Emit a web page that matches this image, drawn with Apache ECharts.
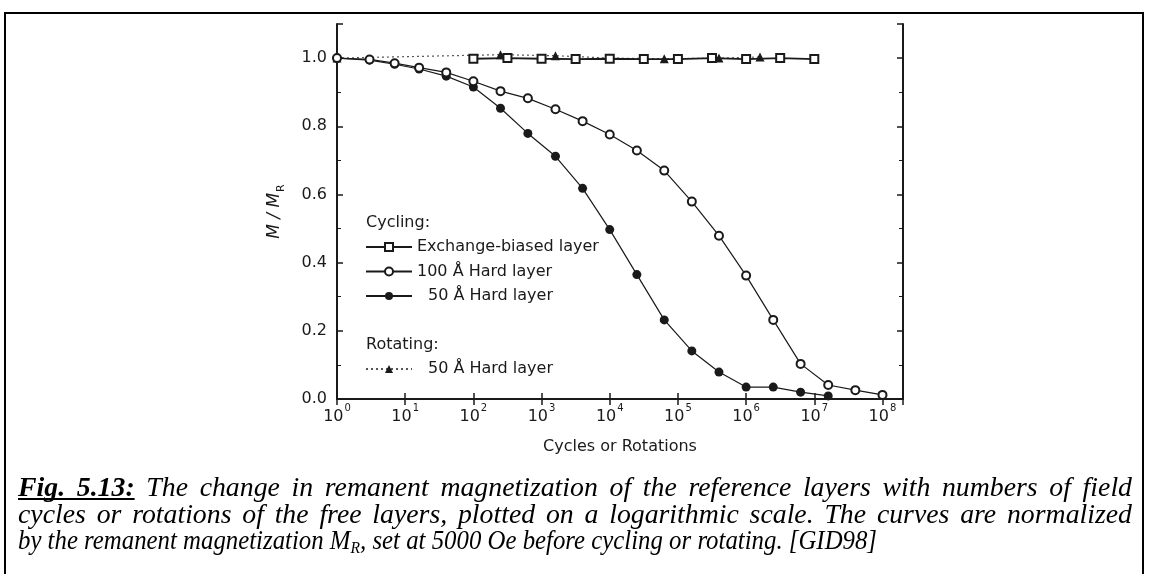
<!DOCTYPE html>
<html>
<head>
<meta charset="utf-8">
<script src="https://cdn.jsdelivr.net/npm/echarts@6/dist/echarts.min.js"></script>
<style>
  html, body { margin: 0; padding: 0; background: #ffffff; }
  #chart { width: 1149px; height: 574px; }
</style>
</head>
<body>
<div id="chart"></div>
<script>
// Remanent magnetization M/M_R versus number of field cycles / rotations

// Cycling: exchange-biased layer (open squares)
const exchangeCycles = [100, 316, 1000, 3160, 1e4, 3.16e4, 1e5, 3.16e5, 1e6, 3.16e6, 1e7];
const exchangeMR     = [0.998, 1.0, 0.998, 0.997, 0.998, 0.997, 0.997, 1.0, 0.997, 1.0, 0.997];

// Cycling: 100 Å hard layer (open circles)
const hard100Cycles = [1, 3, 7, 16, 40, 100, 250, 630, 1600, 4000, 1e4, 2.5e4, 6.3e4, 1.6e5, 4e5, 1e6, 2.5e6, 6.3e6, 1.6e7, 4e7, 1e8];
const hard100MR     = [1.0, 0.996, 0.985, 0.972, 0.958, 0.932, 0.903, 0.882, 0.85, 0.815, 0.776, 0.729, 0.67, 0.579, 0.479, 0.362, 0.232, 0.103, 0.041, 0.026, 0.012];

// Cycling: 50 Å hard layer (filled circles)
const hard50Cycles = [1, 3, 7, 16, 40, 100, 250, 630, 1600, 4000, 1e4, 2.5e4, 6.3e4, 1.6e5, 4e5, 1e6, 2.5e6, 6.3e6, 1.6e7];
const hard50MR     = [1.0, 0.994, 0.982, 0.968, 0.947, 0.915, 0.853, 0.779, 0.712, 0.618, 0.497, 0.365, 0.232, 0.141, 0.079, 0.035, 0.035, 0.02, 0.009];

// Rotating: 50 Å hard layer (filled triangles)
const rotCycles = [1, 250, 1600, 1e4, 6.3e4, 4e5, 1.6e6];
const rotMR     = [1.0, 1.01, 1.007, 1.0, 0.998, 1.0, 1.003];

// Axis ticks
const yTickValues = [0, 0.2, 0.4, 0.6, 0.8, 1.0];
const xDecades = [0, 1, 2, 3, 4, 5, 6, 7, 8];

// Caption text
const captionHead = ['Fig.', '5.13:'];
const captionLine1 = 'The change in remanent magnetization of the reference layers with numbers of field';
const captionLine2 = 'cycles or rotations of the free layers, plotted on a logarithmic scale. The curves are normalized';
const captionLine3a = 'by the remanent magnetization M';
const captionSub = 'R';
const captionLine3b = ', set at 5000 Oe before cycling or rotating. [GID98]';

const pairs = (xs, ys) => xs.map((x, i) => [x, ys[i]]);

const INK = '#1a1a1a';
const SANS = '"DejaVu Sans", sans-serif';
const SERIF = '"Liberation Serif", "Times New Roman", serif';

// ---- caption typesetting: condensed serif, first two lines justified ----
const ctx2d = document.createElement('canvas').getContext('2d');
const measure = (font, text) => { ctx2d.font = font; return ctx2d.measureText(text).width; };
const CAP = 27;
const fItal = 'italic ' + CAP + 'px ' + SERIF;
const fBold = 'bold italic ' + CAP + 'px ' + SERIF;
const fSub = 'italic 17px ' + SERIF;
const CAP_LEFT = 18;
const CAP_RIGHT = 1132;
const w3 = measure(fItal, captionLine3a) + measure(fSub, captionSub) + measure(fItal, captionLine3b);
const condense = 859 / w3;
const bodyScale = condense * 1.12;

function justifiedLine(tokens, y, scale) {
  const widths = tokens.map(t => measure(t.font, t.text) * scale);
  const total = widths.reduce((a, b) => a + b, 0);
  const gap = (CAP_RIGHT - CAP_LEFT - total) / (tokens.length - 1);
  const els = [];
  let x = CAP_LEFT;
  tokens.forEach((t, i) => {
    els.push({
      type: 'text', x: x, y: y, scaleX: scale, silent: true,
      style: { text: t.text, font: t.font, fill: '#000', verticalAlign: 'middle' }
    });
    t.x0 = x; t.x1 = x + widths[i];
    x += widths[i] + gap;
  });
  return els;
}

const line1Tokens = captionHead.map(w => ({ text: w, font: fBold }))
  .concat(captionLine1.split(' ').map(w => ({ text: w, font: fItal })));
const line2Tokens = captionLine2.split(' ').map(w => ({ text: w, font: fItal }));
const captionGraphics = []
  .concat(justifiedLine(line1Tokens, 489, bodyScale))
  .concat(justifiedLine(line2Tokens, 516, bodyScale));
captionGraphics.push({
  type: 'line', silent: true,
  shape: { x1: line1Tokens[0].x0, y1: 499, x2: line1Tokens[1].x1, y2: 499 },
  style: { stroke: '#000', lineWidth: 2 }
});
captionGraphics.push({
  type: 'text', x: CAP_LEFT, y: 542, scaleX: condense, silent: true,
  style: {
    text: '{t|' + captionLine3a + '}{s|' + captionSub + '}{t|' + captionLine3b + '}',
    verticalAlign: 'middle',
    rich: {
      t: { font: fItal, fill: '#000', lineHeight: 30, verticalAlign: 'middle' },
      s: { font: fSub, fill: '#000', lineHeight: 30, verticalAlign: 'bottom' }
    }
  }
});

const chart = echarts.init(document.getElementById('chart'), null, { renderer: 'canvas' });

const isDecade = v => Math.abs(Math.log10(v) - Math.round(Math.log10(v))) < 1e-6;

const baseX = {
  type: 'log',
  logBase: 10,
  min: 1,
  max: 2e8,
  axisLine: { show: true, lineStyle: { color: INK, width: 2 } },
  axisTick: { show: true, inside: true, length: 6, lineStyle: { color: INK, width: 1.5 } },
  splitLine: { show: false },
  minorTick: { show: false }
};
const baseY = {
  type: 'value',
  min: 0,
  max: 1.1,
  interval: 0.2,
  axisLine: { show: true, lineStyle: { color: INK, width: 2 } },
  axisTick: { show: true, inside: true, length: 6, lineStyle: { color: INK, width: 1.5 } },
  minorTick: { show: true, splitNumber: 2, length: 4, lineStyle: { color: INK, width: 1 } },
  splitLine: { show: false }
};

const option = {
  backgroundColor: '#ffffff',
  animation: false,
  grid: { left: 337, right: 246, top: 24, bottom: 175, containLabel: false },
  xAxis: [
    Object.assign({}, baseX, {
      position: 'bottom',
      name: 'Cycles or Rotations',
      nameLocation: 'middle',
      nameGap: 40,
      nameTextStyle: { fontFamily: SANS, fontSize: 16, color: INK },
      axisLabel: {
        show: true,
        margin: 4,
        formatter: v => isDecade(v) && xDecades.includes(Math.round(Math.log10(v)))
          ? '{b|10}{s|' + Math.round(Math.log10(v)) + '}' : '',
        rich: {
          b: { fontFamily: SANS, fontSize: 16, color: INK, lineHeight: 22, verticalAlign: 'bottom' },
          s: { fontFamily: SANS, fontSize: 10, color: INK, lineHeight: 22, verticalAlign: 'top', padding: [0, 0, 0, 1] }
        }
      }
    }),
    Object.assign({}, baseX, { position: 'top', axisLabel: { show: false } })
  ],
  yAxis: [
    Object.assign({}, baseY, {
      position: 'left',
      name: '{a|M / M}{b|R}',
      nameLocation: 'middle',
      nameGap: 50,
      nameTextStyle: {
        rich: {
          a: { fontFamily: SANS, fontSize: 17, fontStyle: 'italic', color: INK, lineHeight: 24, verticalAlign: 'middle' },
          b: { fontFamily: SANS, fontSize: 11, color: INK, lineHeight: 24, verticalAlign: 'bottom', padding: [6, 0, 0, 1] }
        }
      },
      axisLabel: {
        show: true,
        margin: 10,
        showMaxLabel: false,
        fontFamily: SANS, fontSize: 16, color: INK,
        formatter: v => yTickValues.some(t => Math.abs(t - v) < 1e-9) ? v.toFixed(1) : ''
      }
    }),
    Object.assign({}, baseY, { position: 'right', axisLabel: { show: false } })
  ],
  legend: [
    {
      orient: 'vertical',
      left: 365,
      top: 239,
      padding: 0,
      itemWidth: 46,
      itemHeight: 10,
      itemGap: 8.5,
      selectedMode: false,
      formatter: n => n.replace(/^.*?: /, ''),
      textStyle: { fontFamily: SANS, fontSize: 16, color: INK, lineHeight: 16 },
      data: [
        { name: 'Cycling: Exchange-biased layer' },
        { name: 'Cycling: 100 Å Hard layer' },
        { name: 'Cycling: 50 Å Hard layer', textStyle: { padding: [0, 0, 0, 11] } }
      ]
    },
    {
      orient: 'vertical',
      left: 365,
      top: 361,
      padding: 0,
      itemWidth: 46,
      itemHeight: 10,
      selectedMode: false,
      formatter: n => n.replace(/^.*?: /, ''),
      textStyle: { fontFamily: SANS, fontSize: 16, color: INK, lineHeight: 16, padding: [0, 0, 0, 11] },
      data: [{ name: 'Rotating: 50 Å Hard layer' }]
    }
  ],
  series: [
    {
      name: 'Rotating: 50 Å Hard layer',
      type: 'line',
      data: pairs(rotCycles, rotMR),
      symbol: 'triangle',
      symbolSize: 9,
      itemStyle: { color: INK },
      lineStyle: { color: '#555', width: 1.2, type: [2, 3] },
      z: 2
    },
    {
      name: 'Cycling: 50 Å Hard layer',
      type: 'line',
      data: pairs(hard50Cycles, hard50MR),
      symbol: 'circle',
      symbolSize: 9,
      itemStyle: { color: INK },
      lineStyle: { color: INK, width: 1.2 },
      z: 3
    },
    {
      name: 'Cycling: 100 Å Hard layer',
      type: 'line',
      data: pairs(hard100Cycles, hard100MR),
      symbol: 'emptyCircle',
      symbolSize: 8,
      itemStyle: { color: INK, borderWidth: 1.8 },
      lineStyle: { color: INK, width: 1.2 },
      z: 4
    },
    {
      name: 'Cycling: Exchange-biased layer',
      type: 'line',
      data: pairs(exchangeCycles, exchangeMR),
      symbol: 'emptyRect',
      symbolSize: 8,
      itemStyle: { color: INK, borderWidth: 1.8 },
      lineStyle: { color: INK, width: 1.8 },
      z: 5
    }
  ],
  graphic: [
    // Figure frame
    {
      type: 'rect', silent: true,
      shape: { x: 5, y: 13, width: 1138, height: 600 },
      style: { fill: null, stroke: '#000', lineWidth: 2 }
    },
    // Legend section headings
    {
      type: 'text', x: 366, y: 223,
      style: { text: 'Cycling:', font: '16px ' + SANS, fill: INK, verticalAlign: 'middle' }
    },
    {
      type: 'text', x: 366, y: 345,
      style: { text: 'Rotating:', font: '16px ' + SANS, fill: INK, verticalAlign: 'middle' }
    }
  ].concat(captionGraphics)
};

chart.setOption(option);
</script>
</body>
</html>
